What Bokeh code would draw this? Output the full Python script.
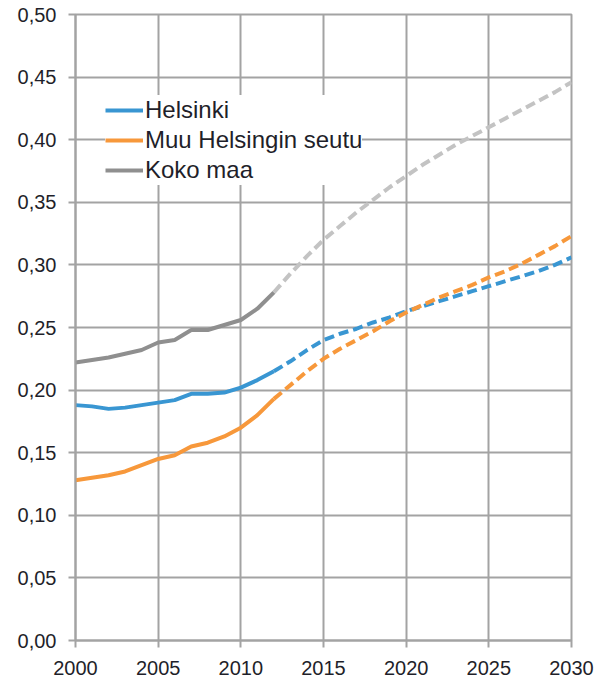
from bokeh.plotting import figure
from bokeh.models import FixedTicker, CustomJSTickFormatter, Legend, LegendItem, Range1d
from bokeh.embed import file_html
from bokeh.resources import INLINE

years_hist = [2000, 2001, 2002, 2003, 2004, 2005, 2006, 2007, 2008, 2009, 2010, 2011, 2012]
years_proj = [2012, 2013, 2014, 2015, 2016, 2017, 2018, 2019, 2020, 2021,
              2022, 2023, 2024, 2025, 2026, 2027, 2028, 2029, 2030]

helsinki_hist = [0.188, 0.187, 0.185, 0.186, 0.188, 0.190, 0.192, 0.197, 0.197, 0.198, 0.202, 0.208, 0.215]
helsinki_proj = [0.215, 0.223, 0.232, 0.240, 0.245, 0.249, 0.254, 0.258, 0.263, 0.267,
                 0.271, 0.275, 0.279, 0.283, 0.287, 0.291, 0.295, 0.300, 0.306]

muu_hist = [0.128, 0.130, 0.132, 0.135, 0.140, 0.145, 0.148, 0.155, 0.158, 0.163, 0.170, 0.180, 0.193]
muu_proj = [0.193, 0.204, 0.215, 0.225, 0.233, 0.240, 0.247, 0.255, 0.262, 0.268,
            0.274, 0.279, 0.284, 0.290, 0.295, 0.301, 0.308, 0.315, 0.323]

koko_hist = [0.222, 0.224, 0.226, 0.229, 0.232, 0.238, 0.240, 0.248, 0.248, 0.252, 0.256, 0.265, 0.278]
koko_proj = [0.278, 0.293, 0.307, 0.320, 0.331, 0.342, 0.352, 0.362, 0.371, 0.380,
             0.388, 0.396, 0.403, 0.410, 0.417, 0.424, 0.431, 0.438, 0.446]

x_ticks = [2000, 2005, 2010, 2015, 2020, 2025, 2030]
y_ticks = [0.0, 0.05, 0.10, 0.15, 0.20, 0.25, 0.30, 0.35, 0.40, 0.45, 0.50]

BLUE = "#3996d2"
ORANGE = "#f7983b"
GRAY = "#8f8f8f"
LIGHTGRAY = "#c3c3c3"
GRID = "#a3a3a3"
TEXT = "#1f1f2a"
FONT = "Liberation Sans"

p = figure(frame_width=496, frame_height=626, output_backend="svg", toolbar_location=None,
           x_range=Range1d(2000, 2030), y_range=Range1d(0, 0.5),
           min_border_left=75, min_border_right=23, min_border_top=14, min_border_bottom=41)
p.background_fill_color = "white"
p.border_fill_color = "white"
p.outline_line_color = GRID
p.outline_line_width = 2

p.xaxis.ticker = FixedTicker(ticks=x_ticks)
p.yaxis.ticker = FixedTicker(ticks=y_ticks)
p.yaxis.formatter = CustomJSTickFormatter(code="return tick.toFixed(2).replace('.', ',');")
for ax in (p.xaxis[0], p.yaxis[0]):
    ax.axis_line_color = GRID
    ax.axis_line_width = 2
    ax.major_tick_line_color = GRID
    ax.major_tick_line_width = 2
    ax.major_tick_out = 7
    ax.major_tick_in = 0
    ax.minor_tick_line_color = None
    ax.major_label_text_font = FONT
    ax.major_label_text_font_size = "20px"
    ax.major_label_text_color = TEXT
p.xaxis.major_label_standoff = 13
p.yaxis.major_label_standoff = 12

p.xgrid.ticker = FixedTicker(ticks=x_ticks)
p.ygrid.ticker = FixedTicker(ticks=y_ticks)
p.grid.grid_line_color = GRID
p.grid.grid_line_width = 2

W = 4
r_h = p.line(years_hist, helsinki_hist, line_color=BLUE, line_width=W)
p.line(years_proj, helsinki_proj, line_color=BLUE, line_width=W, line_dash="10 5")
r_m = p.line(years_hist, muu_hist, line_color=ORANGE, line_width=W)
p.line(years_proj, muu_proj, line_color=ORANGE, line_width=W, line_dash="10 5")
r_k = p.line(years_hist, koko_hist, line_color=GRAY, line_width=W)
p.line(years_proj, koko_proj, line_color=LIGHTGRAY, line_width=W, line_dash="10 5")

legend = Legend(items=[LegendItem(label="Helsinki", renderers=[r_h]),
                       LegendItem(label="Muu Helsingin seutu", renderers=[r_m]),
                       LegendItem(label="Koko maa", renderers=[r_k])],
                location=(30, 455))
legend.background_fill_color = "white"
legend.background_fill_alpha = 1.0
legend.border_line_color = None
legend.label_text_font = FONT
legend.label_text_font_size = "24px"
legend.label_text_color = TEXT
legend.glyph_width = 38
legend.glyph_height = 30
legend.label_height = 30
legend.label_standoff = 2
legend.spacing = 0
legend.padding = 10
legend.margin = 0
p.add_layout(legend, "center")

open("out.html", "w").write(file_html(p, INLINE))
